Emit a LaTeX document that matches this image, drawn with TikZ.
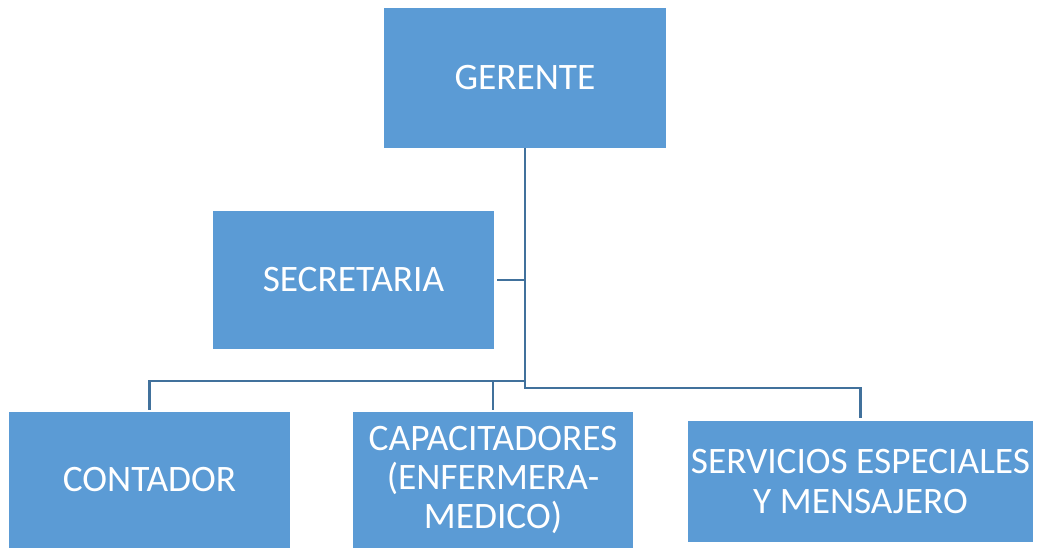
\documentclass[tikz,border=0pt]{standalone}
\usepackage{fontspec}
\setmainfont{Carlito}
\definecolor{boxblue}{HTML}{5B9BD5}
\definecolor{lineblue}{HTML}{41719C}
\begin{document}
\begin{tikzpicture}[x=0.75pt,y=-0.75pt,
  orgbox/.style={fill=boxblue,draw=none,text=white,align=center,inner sep=0pt,
    font=\fontsize{28pt}{29.5pt}\selectfont},
  conn/.style={draw=lineblue,line width=2pt}]
\useasboundingbox (0,0) rectangle (1037,548);
\node[orgbox,minimum width=282*0.75pt,minimum height=140*0.75pt] (ger) at (525,78) {GERENTE};
\node[orgbox,minimum width=281*0.75pt,minimum height=138*0.75pt] (sec) at (353.5,280) {SECRETARIA};
\node[orgbox,minimum width=281*0.75pt,minimum height=136*0.75pt] (cont) at (149.5,480) {CONTADOR};
\node[orgbox,minimum width=280*0.75pt,minimum height=136*0.75pt] (cap) at (493,480) {CAPACITADORES\\(ENFERMERA-\\MEDICO)};
\node[orgbox,minimum width=345*0.75pt,minimum height=121*0.75pt] (serv) at (860.5,481.5) {SERVICIOS ESPECIALES\\Y MENSAJERO};
\coordinate (jr) at (525,388);
\coordinate (jl) at (525,381);
\draw[conn] (ger.south) -- (jr) -| ([yshift=3*0.75pt]serv.north);
\draw[conn] (jl) -| ([yshift=2*0.75pt]cont.north);
\draw[conn] (jl) -| ([yshift=2*0.75pt]cap.north);
\draw[conn] ([xshift=3*0.75pt]sec.east) -- (sec.east -| ger.south);
\end{tikzpicture}
\end{document}
